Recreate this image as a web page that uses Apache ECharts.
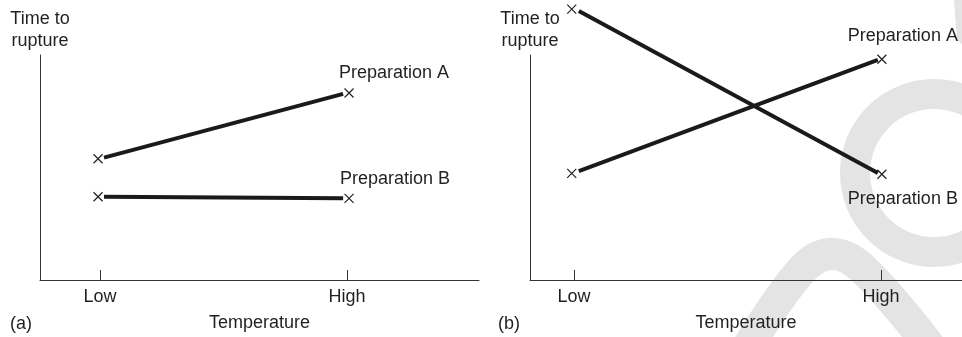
<!DOCTYPE html>
<html><head><meta charset="utf-8">
<script src="https://cdn.jsdelivr.net/npm/echarts@6/dist/echarts.min.js"></script>
<style>html,body{margin:0;padding:0;background:#fff}#c{width:962px;height:337px}</style>
</head><body><div id="c"></div>
<script>
// ---- data ----
const categories = ['Low', 'High'];
const catPos = [1, 2];
const seriesNames = ['Preparation A', 'Preparation B'];
const xAxisName = 'Temperature';
const yAxisName = 'Time to\nrupture';
const panelTags = ['(a)', '(b)'];

// panel (a)
const aLineX = [1.016, 1.984];
const aMarkX = [0.992, 2.008];
const aPrepA_line = [5.44, 8.27];
const aPrepA_mark = [5.39, 8.31];
const aPrepB_line = [3.70, 3.63];
const aPrepB_mark = [3.70, 3.63];

// panel (b)
const bLineX = [1.016, 1.990];
const bMarkX = [0.993, 2.003];
const bPrepA_line = [4.84, 9.78];
const bPrepA_mark = [4.74, 9.81];
const bPrepB_line = [11.96, 4.76];
const bPrepB_mark = [12.04, 4.70];

// ---- styling ----
const FONT = 'Liberation Sans, Arial, Helvetica, sans-serif';
const TXT = '#231f20';
const INK = '#1a1a1a';
const AX = '#333333';
const WM = '#e4e4e4';
const X_PATH = 'path://M0,0L10,10M10,0L0,10';

function xAxis(gi, min, max) {
  return {
    type: 'value', gridIndex: gi, min: min, max: max,
    name: xAxisName, nameLocation: 'middle', nameGap: 34,
    nameTextStyle: { fontFamily: FONT, fontSize: 18, color: TXT },
    axisLine: { show: true, onZero: false, lineStyle: { color: AX, width: 1 } },
    axisTick: { show: true, inside: true, length: 10, customValues: catPos, lineStyle: { color: AX, width: 1 } },
    axisLabel: { show: true, customValues: catPos, margin: 8, fontFamily: FONT, fontSize: 18, color: TXT,
      formatter: v => categories[Math.round(v) - 1] || '' },
    splitLine: { show: false }
  };
}
function yAxis(gi) {
  return {
    type: 'value', gridIndex: gi, min: 0, max: 10,
    name: yAxisName, nameLocation: 'end', nameGap: 3,
    nameTextStyle: { fontFamily: FONT, fontSize: 18, lineHeight: 22, color: TXT, align: 'center' },
    axisLine: { show: true, lineStyle: { color: AX, width: 1 } },
    axisTick: { show: false }, axisLabel: { show: false }, splitLine: { show: false }
  };
}
function lineSeries(gi, xs, ys) {
  return {
    type: 'line', xAxisIndex: gi, yAxisIndex: gi, clip: false, showSymbol: false, silent: true,
    lineStyle: { color: INK, width: 4, cap: 'butt' },
    data: xs.map((x, i) => [x, ys[i]]), z: 3
  };
}
function markSeries(gi, name, xs, ys, labelCfg) {
  return {
    type: 'scatter', name: name, xAxisIndex: gi, yAxisIndex: gi, clip: false, silent: true,
    symbol: X_PATH, symbolSize: 9,
    itemStyle: { color: 'rgba(0,0,0,0)', borderColor: '#222', borderWidth: 1.2, opacity: 1 },
    data: xs.map((x, i) => ({
      value: [x, ys[i]],
      label: i === xs.length - 1
        ? Object.assign({ show: true, formatter: name, fontFamily: FONT, fontSize: 18, color: TXT,
            opacity: 1, textBorderWidth: 0 }, labelCfg)
        : { show: false }
    })), z: 4
  };
}

const chart = echarts.init(document.getElementById('c'), null, { renderer: 'canvas' });
chart.setOption({
  backgroundColor: '#ffffff',
  animation: false,
  grid: [
    { left: 40, right: 483, top: 55, bottom: 57 },
    { left: 530, right: 0, top: 55, bottom: 57 }
  ],
  xAxis: [xAxis(0, 0.757, 2.534), xAxis(1, 0.857, 2.264)],
  yAxis: [yAxis(0), yAxis(1)],
  graphic: [
    { type: 'ring', z: -10, silent: true, shape: { cx: 934, cy: 173, r: 94, r0: 64 }, style: { fill: WM } },
    { type: 'polyline', z: -10, silent: true,
      shape: { points: [[745, 352], [800, 272], [830, 254], [862, 268], [934, 352]], smooth: 0.4 },
      style: { stroke: WM, lineWidth: 32, fill: null } },
    { type: 'polygon', z: -10, silent: true, shape: { points: [[954, 0], [962, 0], [962, 44], [957, 40]] }, style: { fill: WM } },
    { type: 'text', left: 10, top: 315, style: { text: panelTags[0], font: '18px ' + FONT, fill: TXT } },
    { type: 'text', left: 498, top: 315, style: { text: panelTags[1], font: '18px ' + FONT, fill: TXT } }
  ],
  series: [
    lineSeries(0, aLineX, aPrepA_line),
    lineSeries(0, aLineX, aPrepB_line),
    markSeries(0, seriesNames[0], aMarkX, aPrepA_mark, { position: 'top', offset: [45, -1] }),
    markSeries(0, seriesNames[1], aMarkX, aPrepB_mark, { position: 'top', offset: [46, 0] }),
    lineSeries(1, bLineX, bPrepA_line),
    lineSeries(1, bLineX, bPrepB_line),
    markSeries(1, seriesNames[0], bMarkX, bPrepA_mark, { position: 'top', offset: [21, -4] }),
    markSeries(1, seriesNames[1], bMarkX, bPrepB_mark, { position: 'bottom', offset: [21, 6] })
  ]
});
</script></body></html>
